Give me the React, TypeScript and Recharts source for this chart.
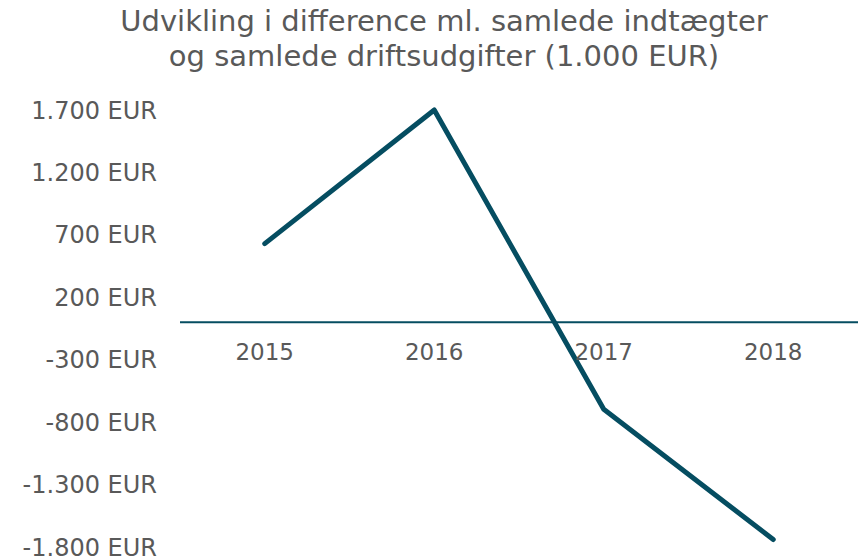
import React from "react";
import { LineChart, Line, XAxis, YAxis, ReferenceLine } from "recharts";

const years = ["2015", "2016", "2017", "2018"];
const difference = [630, 1700, -697, -1740];
const yTicks = [1700, 1200, 700, 200, -300, -800, -1300, -1800];
const titleLines = [
  "Udvikling i difference ml. samlede indtægter",
  "og samlede driftsudgifter (1.000 EUR)",
];

const W = 858;
const H = 559;
const TOP = 110;
const BOTTOM = 11;
const LEFT_AXIS = 180;
const Y_MIN = -1800;
const Y_MAX = 1700;
const LINE_COLOR = "#054d61";
const TEXT_COLOR = "#595959";
const FONT = "'DejaVu Sans', Verdana, sans-serif";

const fmt = (v: number) => {
  const s = Math.abs(v).toString().replace(/\B(?=(\d{3})+(?!\d))/g, ".");
  return `${v < 0 ? "-" : ""}${s} EUR`;
};

// x labels sit just under the zero line instead of the bottom of the plot
const zeroY = TOP + ((Y_MAX - 0) / (Y_MAX - Y_MIN)) * (H - TOP - BOTTOM - 1);
// half a category band on each side, like an Excel line chart
const halfBand = (W - LEFT_AXIS) / years.length / 2;

function YearTick(props: any) {
  const { x, payload } = props;
  return (
    <text
      x={x}
      y={zeroY + 31}
      textAnchor="middle"
      dominantBaseline="middle"
      fill={TEXT_COLOR}
      fontFamily={FONT}
      fontSize={23}
    >
      {payload.value}
    </text>
  );
}

export default function App() {
  const data = years.map((y, i) => ({ year: y, value: difference[i] }));
  return (
    <div style={{ position: "absolute", left: 0, top: 0, width: W, height: H, background: "#fff" }}>
      <div
        style={{
          position: "absolute",
          left: 0,
          top: 4,
          width: 888,
          textAlign: "center",
          fontFamily: FONT,
          fontSize: 29,
          lineHeight: "35px",
          color: TEXT_COLOR,
        }}
      >
        {titleLines.map((t) => (
          <div key={t}>{t}</div>
        ))}
      </div>
      <LineChart
        width={W}
        height={H}
        data={data}
        margin={{ top: TOP, right: 0, bottom: BOTTOM, left: 0 }}
      >
        <XAxis
          dataKey="year"
          axisLine={false}
          tickLine={false}
          tick={<YearTick />}
          height={1}
          interval={0}
          padding={{ left: halfBand, right: halfBand }}
        />
        <YAxis
          domain={[Y_MIN, Y_MAX]}
          ticks={yTicks}
          tickFormatter={fmt}
          width={LEFT_AXIS}
          axisLine={false}
          tickLine={false}
          tickSize={0}
          tickMargin={23}
          interval={0}
          tick={{ fill: TEXT_COLOR, fontFamily: FONT, fontSize: 24 }}
        />
        <ReferenceLine y={0} stroke={LINE_COLOR} strokeWidth={2} />
        <Line
          dataKey="value"
          stroke={LINE_COLOR}
          strokeWidth={5}
          strokeLinecap="round"
          strokeLinejoin="round"
          dot={false}
          isAnimationActive={false}
        />
      </LineChart>
    </div>
  );
}
